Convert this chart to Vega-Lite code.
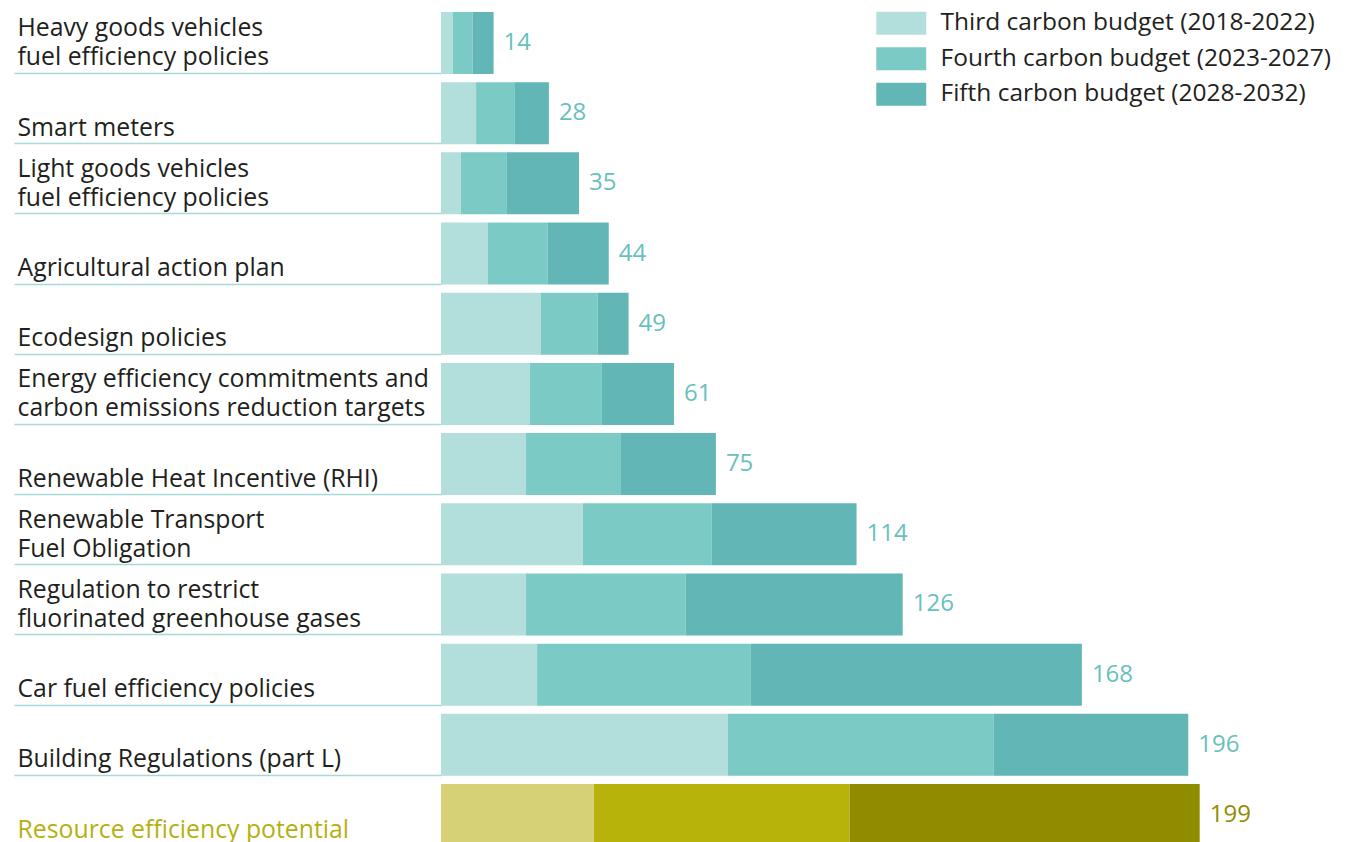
{
  "$schema": "https://vega.github.io/schema/vega-lite/v6.json",
  "width": 915,
  "height": 842,
  "autosize": {"type": "none"},
  "padding": {"left": 441, "top": 0, "right": 0, "bottom": 0},
  "background": "white",
  "config": {"view": {"stroke": null}, "font": "Open Sans"},
  "data": {"values": [
    {"policy": "Heavy goods vehicles|fuel efficiency policies", "budget": "Third carbon budget (2018-2022)", "k": 1, "v": 3.1, "total": 14},
    {"policy": "Heavy goods vehicles|fuel efficiency policies", "budget": "Fourth carbon budget (2023-2027)", "k": 2, "v": 5.2, "total": 14},
    {"policy": "Heavy goods vehicles|fuel efficiency policies", "budget": "Fifth carbon budget (2028-2032)", "k": 3, "v": 5.5, "total": 14},
    {"policy": "Smart meters", "budget": "Third carbon budget (2018-2022)", "k": 1, "v": 9.2, "total": 28},
    {"policy": "Smart meters", "budget": "Fourth carbon budget (2023-2027)", "k": 2, "v": 10.2, "total": 28},
    {"policy": "Smart meters", "budget": "Fifth carbon budget (2028-2032)", "k": 3, "v": 8.9, "total": 28},
    {"policy": "Light goods vehicles|fuel efficiency policies", "budget": "Third carbon budget (2018-2022)", "k": 1, "v": 5.2, "total": 35},
    {"policy": "Light goods vehicles|fuel efficiency policies", "budget": "Fourth carbon budget (2023-2027)", "k": 2, "v": 12.1, "total": 35},
    {"policy": "Light goods vehicles|fuel efficiency policies", "budget": "Fifth carbon budget (2028-2032)", "k": 3, "v": 18.9, "total": 35},
    {"policy": "Agricultural action plan", "budget": "Third carbon budget (2018-2022)", "k": 1, "v": 12.3, "total": 44},
    {"policy": "Agricultural action plan", "budget": "Fourth carbon budget (2023-2027)", "k": 2, "v": 15.7, "total": 44},
    {"policy": "Agricultural action plan", "budget": "Fifth carbon budget (2028-2032)", "k": 3, "v": 16.0, "total": 44},
    {"policy": "Ecodesign policies", "budget": "Third carbon budget (2018-2022)", "k": 1, "v": 26.2, "total": 49},
    {"policy": "Ecodesign policies", "budget": "Fourth carbon budget (2023-2027)", "k": 2, "v": 14.9, "total": 49},
    {"policy": "Ecodesign policies", "budget": "Fifth carbon budget (2028-2032)", "k": 3, "v": 8.1, "total": 49},
    {"policy": "Energy efficiency commitments and|carbon emissions reduction targets", "budget": "Third carbon budget (2018-2022)", "k": 1, "v": 23.3, "total": 61},
    {"policy": "Energy efficiency commitments and|carbon emissions reduction targets", "budget": "Fourth carbon budget (2023-2027)", "k": 2, "v": 18.9, "total": 61},
    {"policy": "Energy efficiency commitments and|carbon emissions reduction targets", "budget": "Fifth carbon budget (2028-2032)", "k": 3, "v": 18.9, "total": 61},
    {"policy": "Renewable Heat Incentive (RHI)", "budget": "Third carbon budget (2018-2022)", "k": 1, "v": 22.3, "total": 75},
    {"policy": "Renewable Heat Incentive (RHI)", "budget": "Fourth carbon budget (2023-2027)", "k": 2, "v": 24.9, "total": 75},
    {"policy": "Renewable Heat Incentive (RHI)", "budget": "Fifth carbon budget (2028-2032)", "k": 3, "v": 24.9, "total": 75},
    {"policy": "Renewable Transport|Fuel Obligation", "budget": "Third carbon budget (2018-2022)", "k": 1, "v": 37.2, "total": 114},
    {"policy": "Renewable Transport|Fuel Obligation", "budget": "Fourth carbon budget (2023-2027)", "k": 2, "v": 33.8, "total": 114},
    {"policy": "Renewable Transport|Fuel Obligation", "budget": "Fifth carbon budget (2028-2032)", "k": 3, "v": 38.0, "total": 114},
    {"policy": "Regulation to restrict|fluorinated greenhouse gases", "budget": "Third carbon budget (2018-2022)", "k": 1, "v": 22.3, "total": 126},
    {"policy": "Regulation to restrict|fluorinated greenhouse gases", "budget": "Fourth carbon budget (2023-2027)", "k": 2, "v": 41.9, "total": 126},
    {"policy": "Regulation to restrict|fluorinated greenhouse gases", "budget": "Fifth carbon budget (2028-2032)", "k": 3, "v": 56.9, "total": 126},
    {"policy": "Car fuel efficiency policies", "budget": "Third carbon budget (2018-2022)", "k": 1, "v": 25.2, "total": 168},
    {"policy": "Car fuel efficiency policies", "budget": "Fourth carbon budget (2023-2027)", "k": 2, "v": 56.1, "total": 168},
    {"policy": "Car fuel efficiency policies", "budget": "Fifth carbon budget (2028-2032)", "k": 3, "v": 86.8, "total": 168},
    {"policy": "Building Regulations (part L)", "budget": "Third carbon budget (2018-2022)", "k": 1, "v": 75.2, "total": 196},
    {"policy": "Building Regulations (part L)", "budget": "Fourth carbon budget (2023-2027)", "k": 2, "v": 69.7, "total": 196},
    {"policy": "Building Regulations (part L)", "budget": "Fifth carbon budget (2028-2032)", "k": 3, "v": 51.1, "total": 196},
    {"policy": "Resource efficiency potential", "budget": "Resource third", "k": 1, "v": 40.1, "total": 199},
    {"policy": "Resource efficiency potential", "budget": "Resource fourth", "k": 2, "v": 67.1, "total": 199},
    {"policy": "Resource efficiency potential", "budget": "Resource fifth", "k": 3, "v": 91.8, "total": 199}
  ]},
  "encoding": {
    "y": {
      "field": "policy",
      "type": "nominal",
      "sort": [
        "Heavy goods vehicles|fuel efficiency policies",
        "Smart meters",
        "Light goods vehicles|fuel efficiency policies",
        "Agricultural action plan",
        "Ecodesign policies",
        "Energy efficiency commitments and|carbon emissions reduction targets",
        "Renewable Heat Incentive (RHI)",
        "Renewable Transport|Fuel Obligation",
        "Regulation to restrict|fluorinated greenhouse gases",
        "Car fuel efficiency policies",
        "Building Regulations (part L)",
        "Resource efficiency potential"
      ],
      "scale": {"range": [0, 858], "paddingInner": 0.117, "paddingOuter": 0.171},
      "axis": {
        "title": null,
        "domain": false,
        "ticks": true,
        "tickSize": 427,
        "tickColor": "#a6dad7",
        "tickWidth": 1.5,
        "tickOffset": 30,
        "labelAlign": "left",
        "labelBaseline": "bottom",
        "labelPadding": -3,
        "labelOffset": {"condition": {"test": "indexof(datum.value, '|') >= 0", "value": -32}, "value": -3},
        "labelFontSize": 24.8,
        "labelLineHeight": 29,
        "labelLimit": 0,
        "labelFont": "Open Sans",
        "labelExpr": "split(datum.label, '|')",
        "labelColor": {"condition": {"test": "datum.value == 'Resource efficiency potential'", "value": "#b5b010"}, "value": "#231f20"}
      }
    }
  },
  "layer": [
    {
      "mark": {"type": "bar"},
      "encoding": {
        "x": {"field": "v", "type": "quantitative", "stack": "zero", "scale": {"domain": [0, 240], "nice": false}, "axis": null},
        "order": {"field": "k"},
        "color": {
          "field": "budget",
          "type": "nominal",
          "scale": {
            "domain": ["Third carbon budget (2018-2022)", "Fourth carbon budget (2023-2027)", "Fifth carbon budget (2028-2032)", "Resource third", "Resource fourth", "Resource fifth"],
            "range": ["#b2dedb", "#7ccac6", "#62b6b5", "#d6d077", "#b8b30a", "#8f8c00"]
          },
          "legend": {
            "title": null,
            "values": ["Third carbon budget (2018-2022)", "Fourth carbon budget (2023-2027)", "Fifth carbon budget (2028-2032)"],
            "orient": "none",
            "legendX": 448,
            "legendY": 11,
            "padding": 0,
            "symbolType": "M-2.17,-1H2.17V1H-2.17Z",
            "symbolSize": 529,
            "symbolStrokeWidth": 0,
            "symbolOpacity": 1,
            "labelOffset": 27,
            "labelFontSize": 24.5,
            "labelFont": "Open Sans",
            "labelColor": "#231f20",
            "labelLimit": 0,
            "rowPadding": 10.5
          }
        }
      }
    },
    {
      "transform": [
        {"aggregate": [{"op": "sum", "field": "v", "as": "end"}, {"op": "max", "field": "total", "as": "total"}], "groupby": ["policy"]}
      ],
      "mark": {"type": "text", "align": "left", "baseline": "middle", "dx": 10, "fontSize": 24, "font": "Open Sans"},
      "encoding": {
        "x": {"field": "end", "type": "quantitative"},
        "text": {"field": "total", "type": "quantitative"},
        "color": {"condition": {"test": "datum.policy == 'Resource efficiency potential'", "value": "#908d00"}, "value": "#68c0bd"}
      }
    }
  ]
}
